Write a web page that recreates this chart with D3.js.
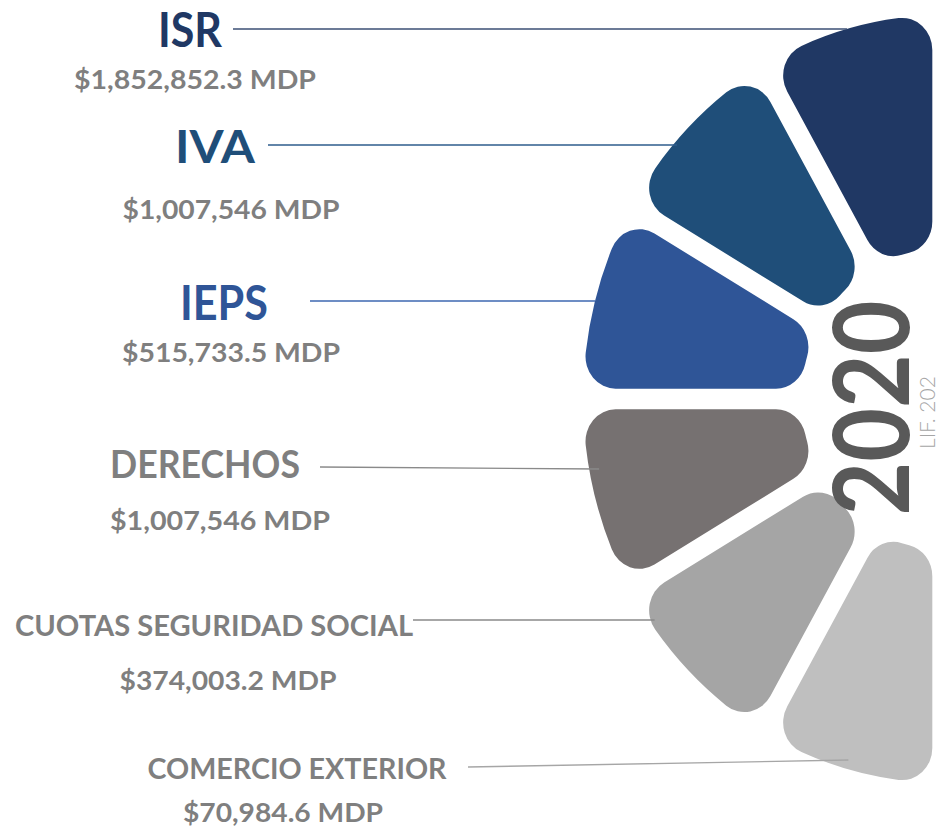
<!DOCTYPE html>
<html lang="es">
<head>
  <meta charset="utf-8">
  <title>Ingresos LIF 2020</title>
  <style>
    body { margin: 0; background: #fff; }
    svg { display: block; }
    .name { font-family: 'Lato', sans-serif; font-weight: 700; text-anchor: middle; }
    .amount { font-family: 'Lato', sans-serif; font-weight: 700; text-anchor: middle; fill: #7f7f7f; }
  </style>
</head>
<body>
  <div id="chart"></div>

  <script src="https://d3js.org/d3.v7.min.js"></script>
  <script>
    // Data
    var categories = ["ISR", "IVA", "IEPS", "DERECHOS", "CUOTAS SEGURIDAD SOCIAL", "COMERCIO EXTERIOR"];
    var amounts = [1852852.3, 1007546, 515733.5, 1007546, 374003.2, 70984.6];
    var colors = ["#203864", "#1f4e79", "#2f5597", "#767171", "#a5a5a5", "#bfbfbf"];
    var nameColors = ["#203864", "#1f4e79", "#2f5597", "#7f7f7f", "#7f7f7f", "#7f7f7f"];
    var lineColors = ["#3b4f75", "#2e5d8c", "#3d67b0", "#8a8a8a", "#8a8a8a", "#a6a6a6"];
    var yearLabel = "2020";
    var sourceLabel = "LIF. 202";

    // Label layout (name x/baseline, amount x/baseline, font sizes, leader line)
    var nameX = [190, 215, 224, 205, 214, 297];
    var nameY = [47, 163, 320, 478, 636, 779];
    var nameSize = [47, 46, 48, 38, 28, 28];
    var nameLen = [64, 80, 88, 190, 398, 299];
    var amountX = [195, 231, 231, 220, 228, 283];
    var amountY = [89, 219, 362, 530, 690, 822];
    var amountLen = [242, 217, 218, 220, 217, 200];
    var lineX0 = [233, 268, 310, 320, 413, 468];
    var lineY0 = [29, 145, 301, 467, 620, 767];
    var lineY1 = [29, 145, 301, 469, 620, 760];
    var lineInset = [0, 4, 0, 10, 6, 28];

    var W = 941, H = 828;
    var cx = 942, cy = 399, sx = 0.97, sy = 1.037;
    var outerR = 370, innerR = 145;

    var svg = d3.select("#chart").append("svg")
      .attr("width", W)
      .attr("height", H);

    // angle per category: band scale over the left half of the circle
    var angle = d3.scaleBand()
      .domain(categories.slice().reverse())
      .range([-Math.PI, 0])
      .paddingInner(0);

    var arc = d3.arc()
      .innerRadius(innerR)
      .outerRadius(outerR)
      .cornerRadius(31)
      .padRadius(100)
      .padAngle(0.2);

    var g = svg.append("g")
      .attr("transform", "translate(" + cx + "," + cy + ") scale(" + sx + "," + sy + ")");

    g.selectAll("path")
      .data(categories)
      .enter()
      .append("path")
      .attr("d", function(d) {
        return arc({ startAngle: angle(d), endAngle: angle(d) + angle.bandwidth() });
      })
      .attr("fill", function(d, i) { return colors[i]; });

    // x on the outer edge at a given y
    function edgeX(y) {
      var dy = (y - cy) / sy;
      var dx = Math.sqrt(Math.max(0, outerR * outerR - dy * dy));
      return cx - dx * sx;
    }

    var fmt = d3.format(",");

    var labels = svg.append("g");

    labels.selectAll("line")
      .data(categories)
      .enter()
      .append("line")
      .attr("x1", function(d, i) { return lineX0[i]; })
      .attr("x2", function(d, i) { return edgeX(lineY1[i]) + lineInset[i]; })
      .attr("y1", function(d, i) { return lineY0[i]; })
      .attr("y2", function(d, i) { return lineY1[i]; })
      .attr("stroke", function(d, i) { return lineColors[i]; })
      .attr("stroke-width", 1.3);

    labels.selectAll("text.name")
      .data(categories)
      .enter()
      .append("text")
      .attr("class", "name")
      .attr("x", function(d, i) { return nameX[i]; })
      .attr("y", function(d, i) { return nameY[i]; })
      .attr("font-size", function(d, i) { return nameSize[i]; })
      .attr("textLength", function(d, i) { return nameLen[i]; })
      .attr("lengthAdjust", "spacingAndGlyphs")
      .attr("fill", function(d, i) { return nameColors[i]; })
      .text(function(d) { return d; });

    labels.selectAll("text.amount")
      .data(amounts)
      .enter()
      .append("text")
      .attr("class", "amount")
      .attr("x", function(d, i) { return amountX[i]; })
      .attr("y", function(d, i) { return amountY[i]; })
      .attr("font-size", 26)
      .attr("textLength", function(d, i) { return amountLen[i]; })
      .attr("lengthAdjust", "spacingAndGlyphs")
      .text(function(d) { return "$" + fmt(d) + " MDP"; });

    // year, rotated
    svg.append("text")
      .attr("transform", "translate(909,408) rotate(-90)")
      .attr("text-anchor", "middle")
      .attr("font-family", "'Lato', sans-serif")
      .attr("font-weight", 700)
      .attr("font-size", 106)
      .attr("textLength", 215)
      .attr("lengthAdjust", "spacingAndGlyphs")
      .attr("fill", "#595959")
      .text(yearLabel);

    svg.append("text")
      .attr("transform", "translate(935,449) rotate(-90)")
      .attr("text-anchor", "start")
      .attr("font-family", "'Lato', sans-serif")
      .attr("font-weight", 300)
      .attr("font-size", 21)
      .attr("fill", "#a6a6a6")
      .text(sourceLabel);
  </script>
</body>
</html>
